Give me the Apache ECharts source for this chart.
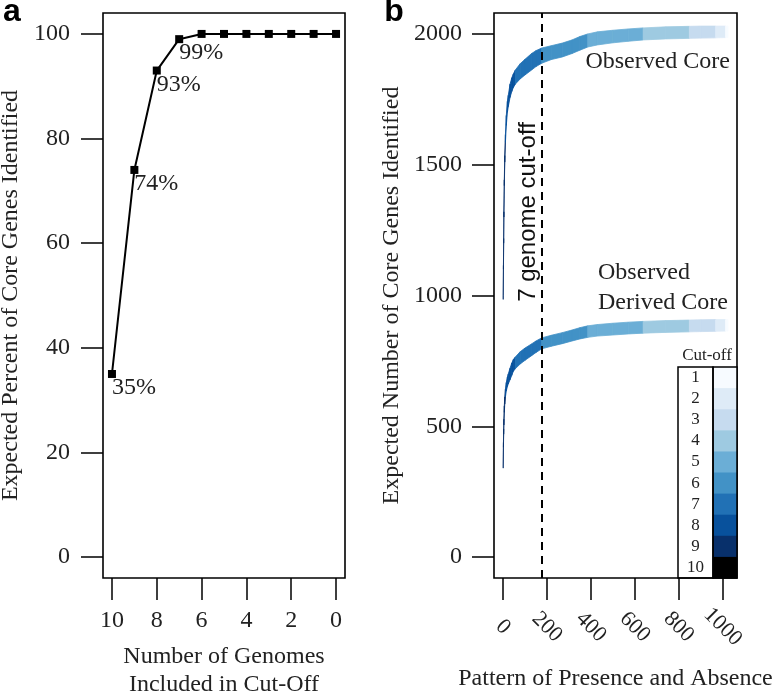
<!DOCTYPE html>
<html><head><meta charset="utf-8">
<script src="https://cdn.jsdelivr.net/npm/echarts@6/dist/echarts.min.js"></script>
<style>html,body{margin:0;padding:0;background:#fff}#c{width:775px;height:693px}</style>
</head><body><div id="c"></div>
<script>
// ---- Panel a data ----
const genomeCounts = [10, 9, 8, 7, 6, 5, 4, 3, 2, 1, 0];
const percentCore = [35, 74, 93, 99, 100, 100, 100, 100, 100, 100, 100];
const percentLabels = ['35%', '74%', '93%', '99%', '', '', '', '', '', '', ''];
const aYTicks = [0, 20, 40, 60, 80, 100];
const aXTicks = [0, 2, 4, 6, 8, 10];

// ---- Panel b data ----
const patternX = [1, 2, 3, 4, 6, 8, 11, 15, 20, 24, 32, 40, 47, 56, 78, 100, 130, 150, 176, 220, 270, 314, 350, 386, 430, 500, 570, 638, 740, 848, 900, 968, 1013, 1024];
const coreLow  = [985, 1100, 1200, 1300, 1420, 1510, 1585, 1650, 1700, 1722, 1757, 1780, 1795, 1808, 1828, 1843, 1862, 1875, 1888, 1902, 1912, 1925, 1938, 1950, 1958, 1966, 1972, 1977, 1981, 1983, 1984, 1985, 1986, 1986];
const coreHigh = [1000, 1115, 1218, 1320, 1442, 1535, 1615, 1688, 1742, 1765, 1808, 1832, 1847, 1862, 1886, 1903, 1925, 1936, 1946, 1955, 1965, 1977, 1990, 2000, 2008, 2014, 2019, 2023, 2027, 2029, 2030, 2030, 2030, 2030];
const derivedLow  = [340, 420, 470, 505, 553, 585, 612, 635, 652, 662, 678, 695, 710, 720, 738, 752, 770, 782, 796, 806, 816, 826, 834, 840, 845, 849, 853, 856, 859, 861, 862, 863, 864, 864];
const derivedHigh = [352, 438, 490, 527, 578, 612, 642, 667, 688, 700, 722, 742, 755, 765, 785, 799, 815, 826, 838, 848, 858, 868, 877, 884, 889, 894, 898, 901, 904, 906, 907, 908, 908, 908];
const segmentBreaks = [1, 11, 56, 176, 386, 638, 848, 968, 1013, 1024];
const cutoffLevels = [1, 2, 3, 4, 5, 6, 7, 8, 9, 10];
const cutoffColors = ['#F7FBFF', '#DEEBF7', '#C6DBEF', '#9ECAE1', '#6BAED6', '#4292C6', '#2171B5', '#08519C', '#08306B', '#000000'];
const cutoffLine = 176;
const bYTicks = [0, 500, 1000, 1500, 2000];
const bXTicks = [0, 200, 400, 600, 800, 1000];

const SERIF = "'Liberation Serif','Times New Roman',serif";
const SANS = "'Liberation Sans',Arial,sans-serif";

// build quad rows (one per interval between consecutive patterns)
function bandData(low, high) {
  const d = [];
  for (let i = 0; i < patternX.length - 1; i++) {
    let seg = 0;
    while (seg < segmentBreaks.length - 2 && patternX[i] >= segmentBreaks[seg + 1]) seg++;
    d.push([patternX[i], low[i], high[i], patternX[i + 1], low[i + 1], high[i + 1], seg]);
  }
  return d;
}
function bandSeries(low, high) {
  return {
    type: 'custom', xAxisIndex: 1, yAxisIndex: 1, silent: true, clip: true,
    encode: { x: [0, 3], y: [1, 2, 4, 5] },
    data: bandData(low, high),
    renderItem: function (params, api) {
      const p1 = api.coord([api.value(0), api.value(1)]);
      const p2 = api.coord([api.value(3), api.value(4)]);
      const p3 = api.coord([api.value(3), api.value(5)]);
      const p4 = api.coord([api.value(0), api.value(2)]);
      const color = cutoffColors[cutoffLevels.length - 2 - api.value(6)];
      return { type: 'polygon', shape: { points: [p1, p2, p3, p4] },
        style: { fill: color, stroke: color, lineWidth: 0.8 } };
    }
  };
}

const tickStyle = { color: '#000', width: 1.5 };
const chart = echarts.init(document.getElementById('c'), null, { renderer: 'canvas' });

const legendGraphics = [];
const lgX = 678, lgMid = 713, lgR = 737, lgTop = 367, lgBot = 578;
const cellH = (lgBot - lgTop) / cutoffLevels.length;
cutoffLevels.forEach((lv, i) => {
  legendGraphics.push({ type: 'rect', shape: { x: lgMid, y: lgTop + i * cellH, width: lgR - lgMid, height: cellH + 0.5 },
    style: { fill: cutoffColors[i] }, silent: true });
  legendGraphics.push({ type: 'text', x: (lgX + lgMid) / 2, y: lgTop + (i + 0.5) * cellH,
    style: { text: String(lv), font: '17px ' + SERIF, fill: '#222', align: 'center', verticalAlign: 'middle' } });
});
legendGraphics.push({ type: 'rect', shape: { x: lgX, y: lgTop, width: lgMid - lgX, height: lgBot - lgTop }, style: { fill: 'none', stroke: '#000', lineWidth: 1.5 } });
legendGraphics.push({ type: 'rect', shape: { x: lgMid, y: lgTop, width: lgR - lgMid, height: lgBot - lgTop }, style: { fill: 'none', stroke: '#000', lineWidth: 1.5 } });
legendGraphics.push({ type: 'text', x: 707, y: 356, style: { text: 'Cut-off', font: '17px ' + SERIF, fill: '#222', align: 'center', verticalAlign: 'middle' } });

const plain = v => String(v);
const option = {
  animation: false,
  backgroundColor: '#fff',
  grid: [
    { left: 103, right: 430, top: 13, bottom: 115, outerBoundsMode: 'none', containLabel: false, show: true, borderColor: '#000', borderWidth: 1.6, backgroundColor: 'transparent' },
    { left: 494, right: 38, top: 13, bottom: 115, outerBoundsMode: 'none', containLabel: false, show: true, borderColor: '#000', borderWidth: 1.6, backgroundColor: 'transparent' }
  ],
  xAxis: [
    { type: 'value', gridIndex: 0, min: -0.4, max: 10.4, inverse: true, position: 'bottom',
      axisLine: { show: false, onZero: false }, splitLine: { show: false },
      axisTick: { show: true, customValues: aXTicks, length: 22, lineStyle: tickStyle },
      axisLabel: { customValues: aXTicks, formatter: plain, margin: 31, color: '#222', fontSize: 24, fontFamily: SERIF },
      name: 'Number of Genomes\nIncluded in Cut-Off', nameLocation: 'middle', nameGap: 65,
      nameTextStyle: { color: '#222', fontSize: 24, fontFamily: SERIF, lineHeight: 28 } },
    { type: 'value', gridIndex: 1, min: -41, max: 1065, position: 'bottom',
      axisLine: { show: false, onZero: false }, splitLine: { show: false },
      axisTick: { show: true, customValues: bXTicks, length: 22, lineStyle: tickStyle },
      axisLabel: { customValues: bXTicks, formatter: plain, margin: 49, rotate: -45, align: 'center', verticalAlign: 'middle', color: '#222', fontSize: 22, fontFamily: SERIF },
      name: 'Pattern of Presence and Absence', nameLocation: 'middle', nameGap: 89,
      nameTextStyle: { color: '#222', fontSize: 24, fontFamily: SERIF } }
  ],
  yAxis: [
    { type: 'value', gridIndex: 0, min: -4, max: 104, position: 'left',
      axisLine: { show: false, onZero: false }, splitLine: { show: false },
      axisTick: { show: true, customValues: aYTicks, length: 22, lineStyle: tickStyle },
      axisLabel: { customValues: aYTicks, formatter: plain, margin: 33, color: '#222', fontSize: 24, fontFamily: SERIF },
      name: 'Expected Percent of Core Genes Identified', nameLocation: 'middle', nameGap: 80,
      nameTextStyle: { color: '#222', fontSize: 24, fontFamily: SERIF } },
    { type: 'value', gridIndex: 1, min: -80, max: 2080, position: 'left',
      axisLine: { show: false, onZero: false }, splitLine: { show: false },
      axisTick: { show: true, customValues: bYTicks, length: 22, lineStyle: tickStyle },
      axisLabel: { customValues: bYTicks, formatter: plain, margin: 32, color: '#222', fontSize: 24, fontFamily: SERIF },
      name: 'Expected Number of Core Genes Identified', nameLocation: 'middle', nameGap: 90,
      nameTextStyle: { color: '#222', fontSize: 24, fontFamily: SERIF } }
  ],
  series: [
    { type: 'line', xAxisIndex: 0, yAxisIndex: 0, symbol: 'rect', symbolSize: 8,
      lineStyle: { color: '#000', width: 2 }, itemStyle: { color: '#000' },
      data: genomeCounts.map((g, i) => [g, percentCore[i]]),
      label: { show: true, position: [4, 6], align: 'left', verticalAlign: 'top',
        formatter: p => percentLabels[p.dataIndex], color: '#222', fontSize: 24, fontFamily: SERIF } },
    bandSeries(coreLow, coreHigh),
    bandSeries(derivedLow, derivedHigh),
    { type: 'line', xAxisIndex: 1, yAxisIndex: 1, data: [], silent: true,
      markLine: { silent: true, symbol: 'none', label: { show: false },
        lineStyle: { color: '#000', type: [8, 6], width: 2 },
        data: [{ xAxis: cutoffLine }] } }
  ],
  graphic: [
    { type: 'text', x: 12, y: 12, style: { text: 'a', font: 'bold 32px ' + SANS, fill: '#000', align: 'center', verticalAlign: 'middle' } },
    { type: 'text', x: 394, y: 12, style: { text: 'b', font: 'bold 32px ' + SANS, fill: '#000', align: 'center', verticalAlign: 'middle' } },
    { type: 'text', x: 528, y: 212, rotation: Math.PI / 2, style: { text: '7 genome cut-off', font: '24px ' + SANS, fill: '#111', align: 'center', verticalAlign: 'middle' } },
    { type: 'text', x: 730, y: 62, style: { text: 'Observed Core', font: '24px ' + SERIF, fill: '#222', align: 'right', verticalAlign: 'middle' } },
    { type: 'text', x: 598, y: 273, style: { text: 'Observed', font: '24px ' + SERIF, fill: '#222', align: 'left', verticalAlign: 'middle' } },
    { type: 'text', x: 598, y: 303, style: { text: 'Derived Core', font: '24px ' + SERIF, fill: '#222', align: 'left', verticalAlign: 'middle' } },
    ...legendGraphics
  ]
};
chart.setOption(option);
</script></body></html>
